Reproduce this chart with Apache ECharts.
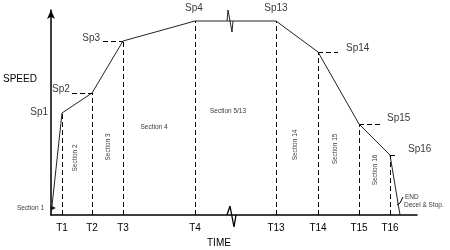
<!DOCTYPE html>
<html><head><meta charset="utf-8">
<script src="https://cdn.jsdelivr.net/npm/echarts@6/dist/echarts.min.js"></script>
<style>html,body{margin:0;padding:0;background:#fff}#c{width:450px;height:250px}</style>
</head><body><div id="c"></div>
<script>
// profile points (time units, speed units)
const profileTimes = [0, 1.1, 4.1, 7.2, 14.4, 22.5, 26.7, 30.8, 33.9, 34.9];
const profileSpeeds = [0, 10.2, 12.2, 17.4, 19.4, 19.4, 16.3, 9.1, 6.0, 0];
const tickNames = ['T1','T2','T3','T4','T13','T14','T15','T16'];
const tickTimes = [1.1, 4.1, 7.2, 14.4, 22.5, 26.7, 30.8, 33.9];
const speedNames = ['Sp1','Sp2','Sp3','Sp4','Sp13','Sp14','Sp15','Sp16'];
const speedValues = [10.2, 12.2, 17.4, 19.4, 19.4, 16.3, 9.1, 6.0];
const sectionNames = ['Section 2','Section 3','Section 4','Section 5/13','Section 14','Section 15','Section 16'];
const sectionTimes = [2.4, 5.7, 10.3, 17.7, 24.4, 28.4, 32.4];
const sectionSpeeds = [5.7, 6.8, 8.8, 10.4, 7.0, 6.6, 4.5];
const sectionVertical = [true, true, false, false, true, true, true];
const breakTime = 17.9;

const FONT = '"Liberation Sans", Arial, sans-serif';
const chart = echarts.init(document.getElementById('c'), null, {renderer: 'canvas'});

const spLabelOpts = [
  {align:'right', offset:[-14,-1]},
  {align:'left', offset:[-40,-4]},
  {align:'right', offset:[-23,-3]},
  {align:'center', offset:[-1,-13]},
  {align:'center', offset:[0,-13]},
  {align:'left', offset:[28,-4]},
  {align:'left', offset:[28,-6]},
  {align:'left', offset:[18,-6]}
];
// horizontal dash extents relative to tick time
const hDash = [null,[-2.0,0],[-2.0,0],null,null,[0,2.0],[0,2.1],[0,0.8]];

const dashed = [];
tickTimes.forEach((t,i)=>{
  dashed.push([{coord:[t,0]},{coord:[t,speedValues[i]]}]);
  if (hDash[i]) dashed.push([{coord:[t+hDash[i][0],speedValues[i]]},{coord:[t+hDash[i][1],speedValues[i]]}]);
});

function seg(points, style){
  return {type:'line', symbol:'none', clip:false, silent:true, z:4,
    lineStyle:Object.assign({color:'#000', width:1}, style||{}), data:points};
}

const series = [
  {
    type:'line', data: profileTimes.map((t,i)=>[t, profileSpeeds[i]]),
    symbol:'none', lineStyle:{color:'#222', width:1}, clip:false, silent:true, z:3,
    markLine:{silent:true, symbol:'none', label:{show:false},
      lineStyle:{color:'#000', width:1, type:[5,3]}, data: dashed}
  },
  // break marks
  seg([[breakTime-0.3,19.4],[breakTime-0.2,20.5],[breakTime+0.2,18.3],[breakTime+0.3,19.4]], {color:'#222'}),
  seg([[breakTime-0.3,0],[breakTime,0.9],[breakTime+0.4,-1.2],[breakTime+0.6,0]], {width:1.3}),
  // Sp1 short dash left of axis
  seg([[-0.35,speedValues[0]],[-0.05,speedValues[0]]]),
  // Section 1 pointer
  seg([[-0.6,0.7],[0.3,0.7]]),
  {type:'scatter', silent:true, clip:false, z:5, symbol:'triangle', symbolSize:[4,4], symbolRotate:-90,
    itemStyle:{color:'#000'}, data:[[0.3,0.7]]},
  // END leader
  seg([[34.6,1.0],[34.9,1.2],[35.2,1.8]]),
  { // speed labels
    type:'scatter', symbolSize:0, silent:true, clip:false,
    data: tickTimes.map((t,i)=>({value:[t, speedValues[i]],
      label:{show:true, position:'inside', formatter:speedNames[i], align:spLabelOpts[i].align,
        verticalAlign:'middle', offset:spLabelOpts[i].offset, color:'#000', fontSize:10, fontFamily:FONT}}))
  },
  { // section labels
    type:'scatter', symbolSize:0, silent:true, clip:false,
    data: sectionNames.map((n,i)=>({value:[sectionTimes[i], sectionSpeeds[i]],
      label:{show:true, position:'inside', formatter:n, rotate: sectionVertical[i]?90:0,
        align:'center', verticalAlign:'middle', color:'#000', fontSize:6.5, fontFamily:FONT}}))
  },
  { // other annotations
    type:'scatter', symbolSize:0, silent:true, clip:false,
    data:[
      {value:[-0.7,0.7], label:{show:true, position:'inside', formatter:'Section 1', align:'right', verticalAlign:'middle', color:'#000', fontSize:6.5, fontFamily:FONT}},
      {value:[35.4,1.8], label:{show:true, position:'inside', formatter:'END', align:'left', verticalAlign:'middle', color:'#000', fontSize:6.5, fontFamily:FONT}},
      {value:[35.3,1.0], label:{show:true, position:'inside', formatter:'Decel & Stop.', align:'left', verticalAlign:'middle', color:'#000', fontSize:6.5, fontFamily:FONT}}
    ]
  }
];

chart.setOption({
  animation:false,
  backgroundColor:'#fff',
  grid:{left:51, right:33, top:10, bottom:35},
  xAxis:{type:'value', min:0, max:36.6,
    axisLine:{show:true, lineStyle:{color:'#000', width:1.5}},
    axisTick:{show:false}, splitLine:{show:false},
    axisLabel:{customValues: tickTimes, formatter:(v)=>{const i=tickTimes.indexOf(v);return i>=0?tickNames[i]:'';},
      color:'#000', fontSize:10, fontFamily:FONT, margin:8}},
  yAxis:{type:'value', min:0, max:20.5,
    axisLine:{show:true, symbol:['none','arrow'], symbolSize:[6,9], lineStyle:{color:'#000', width:1.5}},
    axisTick:{show:false}, splitLine:{show:false}, axisLabel:{show:false}},
  graphic:[
    {type:'text', left:3, top:74, style:{text:'SPEED', fill:'#000', fontSize:10, fontFamily:FONT}},
    {type:'text', left:207, top:238, style:{text:'TIME', fill:'#000', fontSize:10, fontFamily:FONT}}
  ],
  series: series
});
</script></body></html>
